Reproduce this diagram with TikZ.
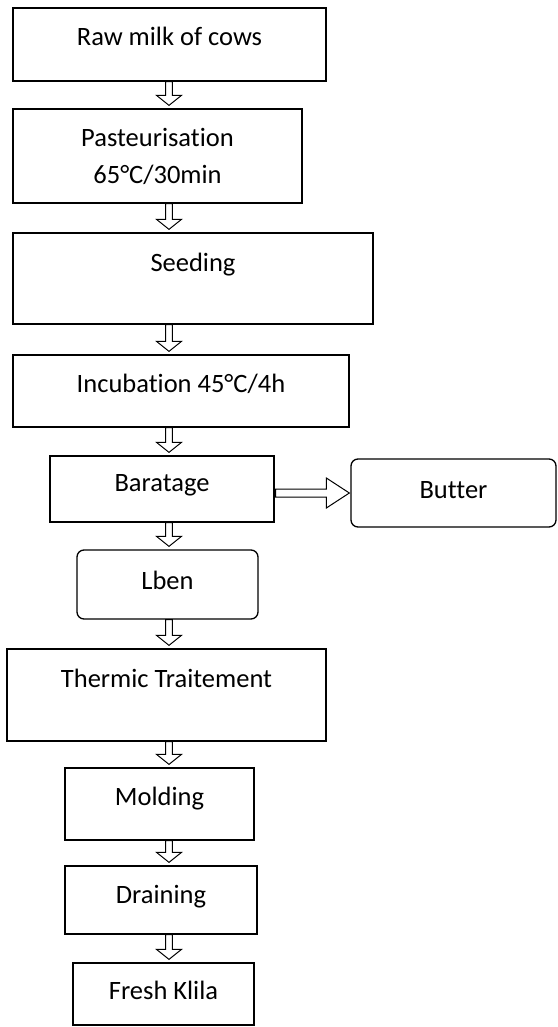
\documentclass[tikz,border=0pt]{standalone}
\usepackage{fontspec}
\setmainfont{Carlito}[Ligatures=NoCommon]
\usepackage{tikz}
\usetikzlibrary{calc,positioning}

\begin{document}
\begin{tikzpicture}[x=1pt, y=-1pt, font=\fontsize{26.5}{37}\selectfont]
    \tikzstyle{stepbox} = [rectangle, draw=black, line width=1.3pt, inner sep=0pt]
    \tikzstyle{roundbox} = [stepbox, rounded corners=7pt]
    \tikzstyle{hollowdown} = [draw, fill=white, line width=1pt, to path={let \p1=(\tikztostart), \p2=(\tikztotarget) in
        (\x1-3.3pt,\y1) -- (\x1-3.3pt,\y2+13pt) -- (\x1-12.5pt,\y2+13pt) -- (\x1,\y2+3pt)
        -- (\x1+12.5pt,\y2+13pt) -- (\x1+3.3pt,\y2+13pt) -- (\x1+3.3pt,\y1) -- cycle}]
    \tikzstyle{hollowright} = [draw, fill=white, line width=1pt, to path={let \p1=(\tikztostart), \p2=(\tikztotarget) in
        (\x1+1pt,\y1+4pt) -- (\x2-24pt,\y1+4pt) -- (\x2-24pt,\y1+15pt) -- (\x2-1pt,\y1)
        -- (\x2-24pt,\y1-15pt) -- (\x2-24pt,\y1-4pt) -- (\x1+1pt,\y1-4pt) -- cycle}]

    \useasboundingbox (0,0) rectangle (557,1027);
    \coordinate (spine) at (169,0);

    \node [stepbox, minimum width=313pt, text height=38pt, text depth=35pt] (raw) at (169.5,44.5) {Raw milk of cows};
    \node [stepbox, minimum width=289pt, minimum height=94pt, align=center] (past) at (157.5,156) {Pasteurisation\\65°C/30min};
    \node [stepbox, minimum width=360pt, text height=38pt, text depth=53pt] (seed) at (193,278.5) {Seeding};
    \node [stepbox, minimum width=336pt, text height=37pt, text depth=35pt] (incub) at (181,391) {Incubation 45°C/4h};
    \node [stepbox, minimum width=224pt, text height=35pt, text depth=31pt] (barat) at (162,489) {Baratage};
    \node [roundbox, minimum width=205pt, text height=39pt, text depth=29pt] (butter) at (453.5,493) {Butter};
    \node [roundbox, minimum width=181pt, text height=39pt, text depth=30pt] (lben) at (167.5,584.5) {Lben};
    \node [stepbox, minimum width=319pt, text height=38pt, text depth=54pt] (therm) at (166.5,695) {Thermic Traitement};
    \node [stepbox, minimum width=189pt, text height=37pt, text depth=35pt] (mold) at (159.5,804) {Molding};
    \node [stepbox, minimum width=192pt, text height=37pt, text depth=31pt] (drain) at (161,900) {Draining};
    \node [stepbox, minimum width=181pt, text height=36pt, text depth=26pt] (klila) at (163.5,994) {Fresh Klila};

    \draw [hollowdown] (raw.south -| spine) to (past.north -| spine);
    \draw [hollowdown] (past.south -| spine) to (seed.north -| spine);
    \draw [hollowdown] (seed.south -| spine) to (incub.north -| spine);
    \draw [hollowdown] (incub.south -| spine) to (barat.north -| spine);
    \draw [hollowright] (barat.east |- butter.west) to (butter.west);
    \draw [hollowdown] (barat.south -| spine) to (lben.north -| spine);
    \draw [hollowdown] (lben.south -| spine) to (therm.north -| spine);
    \draw [hollowdown] (therm.south -| spine) to (mold.north -| spine);
    \draw [hollowdown] (mold.south -| spine) to (drain.north -| spine);
    \draw [hollowdown] (drain.south -| spine) to (klila.north -| spine);
\end{tikzpicture}
\end{document}
